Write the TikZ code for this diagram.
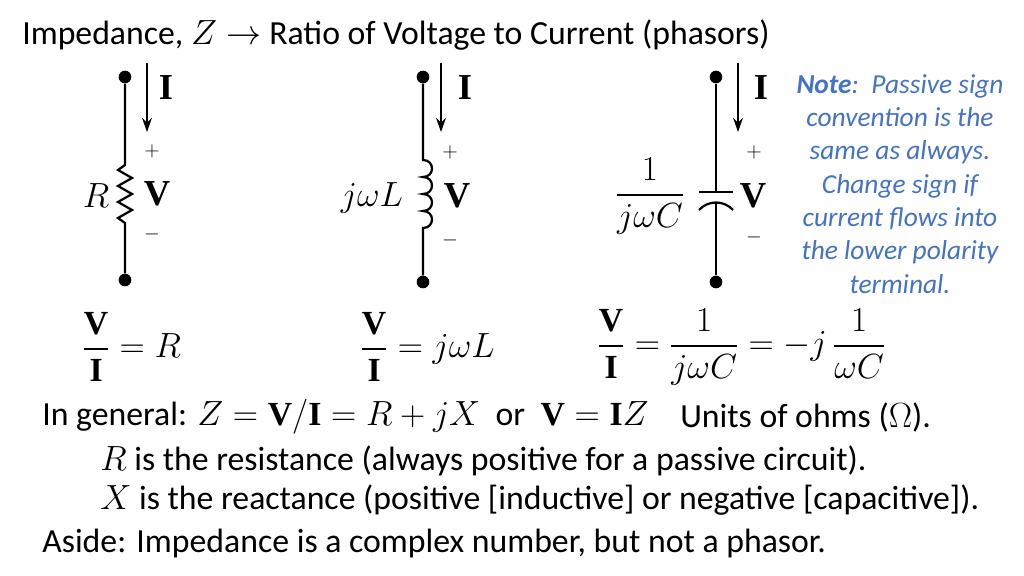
\documentclass[tikz,border=0pt]{standalone}
\usepackage{fontspec}
\usepackage{amsmath}
\setmainfont{Carlito}
\newfontfamily\serifb{Liberation Serif}[BoldFont={* Bold}]
\newcommand{\bvec}[1]{\text{\serifb\bfseries #1}}
\usetikzlibrary{positioning,decorations.pathmorphing,arrows.meta}
\definecolor{noteblue}{RGB}{68,114,196}
\tikzset{
  term/.style={circle, fill=black, inner sep=0pt, minimum size=9pt},
  wire/.style={line width=1.6pt},
  curr/.style={-{Stealth[length=10pt,width=7pt]}, line width=1.3pt},
  lbl/.style={font=\fontsize{26}{30}\selectfont, inner sep=1pt},
  pol/.style={font=\fontsize{14}{16}\selectfont, inner sep=0pt},
  txt/.style={font=\fontsize{24}{28}\selectfont, anchor=west, inner sep=0pt},
  eqn/.style={font=\fontsize{24}{28}\selectfont, anchor=west, inner sep=0pt},
  note/.style={font=\fontsize{19.5}{23.7}\selectfont\itshape, text=noteblue, align=center}
}
\begin{document}
\begin{tikzpicture}[x=0.025cm, y=-0.025cm]
\useasboundingbox (0,0) rectangle (1024,576);
% title
\node[txt] (title) at (22,35) {Impedance, $Z\rightarrow$ Ratio of Voltage to Current (phasors)};

% resistor
\node[term] (ra) at (125,77) {};
\node[term] (rb) at (125,280) {};
\coordinate (r1) at (125,165);
\coordinate (r2) at (125,223);
\draw[wire] (ra) -- (r1) -- (118,170) -- (132,178) -- (118,186) -- (132,194) -- (118,202) -- (132,210) -- (118,218) -- (r2) -- (rb);
\coordinate (ri1) at (147,63);
\coordinate (ri2) at (147,132);
\draw[curr] (ri1) -- (ri2);
\node[lbl] (rI) at (166,88) {$\bvec{I}$};
\node[pol] (rp) at (152,151) {$+$};
\node[lbl] (rV) at (157,194) {$\bvec{V}$};
\node[pol] (rm) at (152,234) {$-$};
\node[lbl] (rR) at (96,196) {$R$};

% inductor
\node[term] (la) at (423,77) {};
\node[term] (lb) at (423,282) {};
\coordinate (l1) at (423,160);
\coordinate (l2) at (423,228);
\draw[wire] (la) -- (l1)
  .. controls (435,160) and (435,177) .. (423,177)
  .. controls (435,177) and (435,194) .. (423,194)
  .. controls (435,194) and (435,211) .. (423,211)
  .. controls (435,211) and (435,228) .. (l2) -- (lb);
\coordinate (li1) at (441,63);
\coordinate (li2) at (441,132);
\draw[curr] (li1) -- (li2);
\node[lbl] (lI) at (465,88) {$\bvec{I}$};
\node[pol] (lp) at (450,152) {$+$};
\node[lbl] (lV) at (457,196) {$\bvec{V}$};
\node[pol] (lm) at (450,240) {$-$};
\node[lbl] (lL) at (372,198) {$j\omega L$};

% capacitor
\node[term] (ca) at (716,77) {};
\node[term] (cb) at (716,282) {};
\coordinate (c1) at (716,192);
\coordinate (c2) at (716,203);
\draw[wire] (ca) -- (c1);
\draw[wire] (699,192) -- (733,192);
\draw[wire] (699,210) .. controls (708,200) and (724,200) .. (733,210);
\draw[wire] (c2) -- (cb);
\coordinate (ci1) at (738,63);
\coordinate (ci2) at (738,132);
\draw[curr] (ci1) -- (ci2);
\node[lbl] (cI) at (761,88) {$\bvec{I}$};
\node[pol] (cp) at (754,152) {$+$};
\node[lbl] (cV) at (753,196) {$\bvec{V}$};
\node[pol] (cm) at (754,237) {$-$};
\node[lbl] (cC) at (650,196) {$\dfrac{1}{j\omega C}$};

% note
\node[note] (nt) at (900,184) {\textbf{Note}:\ \ Passive sign\\convention is the\\same as always.\\Change sign if\\current flows into\\the lower polarity\\terminal.};

% equations
\node[eqn] (eqR) at (82,347) {$\dfrac{\bvec{V}}{\bvec{I}}=R$};
\node[eqn] (eqL) at (360,347) {$\dfrac{\bvec{V}}{\bvec{I}}=j\omega L$};
\node[eqn] (eqC) at (597,347) {$\dfrac{\bvec{V}}{\bvec{I}}=\dfrac{1}{j\omega C}=-j\,\dfrac{1}{\omega C}$};

% text
\node[txt] (gen) at (42,417) {In general: $Z=\bvec{V}/\bvec{I}=R+jX$\ \ or\ \ $\bvec{V}=\bvec{I}Z$};
\node[txt] (unit) at (680,417) {Units of ohms ($\Omega$).};
\node[txt] (res) at (100,461) {$R$ is the resistance (always positive for a passive circuit).};
\node[txt] (rea) at (100,500) {$X$ is the reactance (positive [inductive] or negative [capacitive]).};
\node[txt] (asd) at (42,543) {Aside: Impedance is a complex number, but not a phasor.};
\end{tikzpicture}
\end{document}
